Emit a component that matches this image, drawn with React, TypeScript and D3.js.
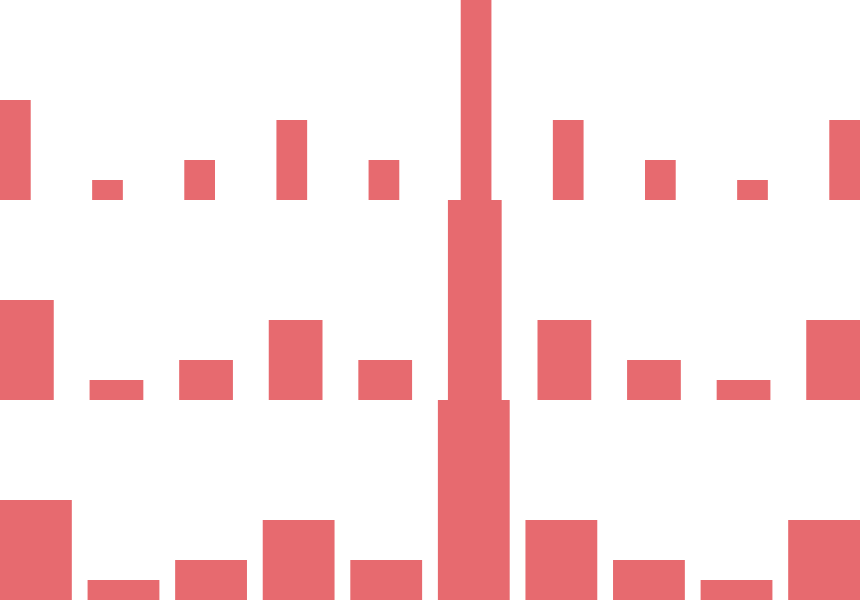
import React, { useEffect, useRef } from "react";
import * as d3 from "d3";

const categories = ["A", "B", "C", "D", "E", "F", "G", "H", "I", "J"];
const values = [5, 1, 2, 4, 2, 10, 4, 2, 1, 4];
const rowPaddings = [2 / 3, 0.4, 0.18];

const WIDTH = 860;
const HEIGHT = 600;
const COLOR = "#e76a6f";

export default function App() {
  const ref = useRef<SVGSVGElement | null>(null);

  useEffect(() => {
    const svg = d3.select(ref.current);
    svg.selectAll("*").remove();
    const rowH = HEIGHT / rowPaddings.length;
    const y = d3.scaleLinear().domain([0, 10]).range([rowH, 0]);

    rowPaddings.forEach((p, r) => {
      const x = d3
        .scaleBand<string>()
        .domain(categories)
        .range([0, WIDTH])
        .paddingInner(p)
        .paddingOuter(0);
      const g = svg.append("g").attr("transform", `translate(0,${r * rowH})`);
      g.selectAll("rect")
        .data(values)
        .join("rect")
        .attr("x", (_d, i) => x(categories[i]) as number)
        .attr("width", x.bandwidth())
        .attr("y", (d) => y(d))
        .attr("height", (d) => rowH - y(d))
        .attr("fill", COLOR);
    });
  }, []);

  return (
    <svg
      ref={ref}
      width={WIDTH}
      height={HEIGHT}
      style={{ position: "absolute", left: 0, top: 0, display: "block", background: "#fff" }}
    />
  );
}
